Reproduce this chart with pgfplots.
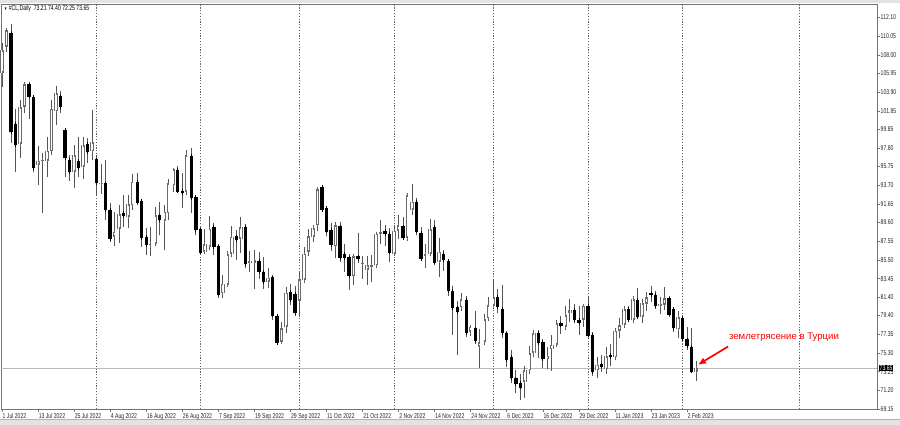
\documentclass[border=0pt]{standalone}
\usepackage{fontspec}
\setmainfont{Liberation Sans}
\newfontfamily\mtfont[FakeStretch=0.73]{Liberation Sans}
\usepackage{pgfplots}
\usepackage{pgfplotstable}
\pgfplotsset{compat=1.18}
\usetikzlibrary{arrows.meta}

\definecolor{wick}{gray}{0.33}
\definecolor{outl}{gray}{0.42}
\definecolor{frame}{gray}{0.45}
\definecolor{sep}{gray}{0.40}

% #CL daily candles, 1 Jul 2022 .. 6 Feb 2023 (bar index, open, high, low, close)
\pgfplotstableread{
i o h l c
0 106.0 109.3 104.5 108.5
1 108.9 111.0 108.3 110.7
2 110.4 111.4 98.3 99.5
3 100.4 102.1 95.2 98.1
4 98.2 103.05 96.7 102.25
5 102.3 105.05 101.6 104.77
6 104.77 105.0 101.0 103.4
7 103.4 103.6 95.1 95.6
8 95.9 98.0 93.7 96.4
9 96.4 97.2 90.6 96.5
10 96.4 99.0 94.6 97.5
11 97.4 103.1 97.0 102.1
12 101.8 104.6 100.3 103.8
13 103.5 104.0 101.6 102.3
14 99.8 100.0 94.6 96.65
15 96.45 97.0 94.2 95.1
16 95.2 98.1 93.4 97.0
17 96.4 99.0 94.6 95.55
18 95.7 99.0 94.4 98.1
19 98.2 98.9 96.1 97.3
20 97.4 101.9 96.5 98.4
21 96.55 97.0 92.5 93.9
22 93.8 96.0 92.7 93.9
23 93.9 96.5 89.9 91.0
24 91.0 91.8 87.5 87.8
25 88.05 90.8 87.0 88.6
26 88.9 91.5 87.4 90.5
27 90.7 92.6 89.1 90.3
28 90.2 92.6 89.0 91.6
29 91.5 94.9 91.0 94.1
30 94.1 95.0 91.5 91.8
31 92.0 92.2 86.9 87.9
32 88.0 89.0 86.0 87.15
33 87.15 89.1 85.9 87.3
34 87.3 91.3 87.0 90.4
35 90.4 91.9 88.2 89.9
36 89.8 91.5 86.6 90.8
37 90.6 94.4 89.9 93.9
38 93.7 95.6 93.0 95.45
39 95.4 95.8 92.8 93.0
40 93.1 95.0 91.2 92.8
41 93.0 97.6 92.6 97.0
42 96.9 97.75 90.6 92.3
43 92.4 92.6 88.2 88.8
44 88.85 89.1 86.1 86.3
45 86.4 88.9 86.1 87.25
46 86.95 90.3 86.6 88.95
47 89.1 89.5 86.0 86.9
48 87.0 87.3 81.3 81.7
49 81.85 83.9 81.3 82.9
50 82.8 86.5 82.5 86.15
51 86.2 89.2 85.8 88.05
52 88.1 88.8 85.5 87.7
53 87.8 90.2 86.3 89.1
54 89.1 89.4 84.6 85.05
55 85.2 86.5 84.2 85.35
56 85.2 86.6 82.3 85.5
57 85.4 86.4 83.4 84.2
58 84.2 85.8 82.3 83.1
59 83.1 84.6 82.4 83.55
60 83.6 83.9 78.9 79.4
61 79.35 79.6 76.2 76.4
62 76.5 78.7 76.3 78.0
63 78.2 82.5 77.5 81.9
64 82.0 82.9 80.6 81.1
65 81.8 82.6 79.3 79.7
66 81.0 84.2 79.4 83.4
67 83.3 86.9 83.0 86.2
68 86.4 88.9 85.9 88.1
69 88.05 89.3 87.5 89.0
70 89.3 93.4 88.7 93.3
71 93.5 93.7 90.8 91.0
72 91.2 91.4 88.1 88.6
73 88.8 89.6 86.5 87.15
74 87.0 89.7 85.7 89.3
75 89.2 89.7 85.3 85.7
76 86.15 87.2 84.2 85.7
77 85.8 86.2 82.2 83.7
78 83.7 86.2 82.7 85.9
79 85.9 88.5 85.2 85.6
80 85.1 85.9 83.4 85.2
81 84.4 85.9 82.8 84.9
82 84.7 86.0 83.1 85.0
83 84.9 88.6 84.6 88.4
84 88.35 89.9 87.3 88.6
85 88.7 89.3 87.0 88.35
86 88.4 89.0 85.3 86.3
87 86.2 89.3 85.9 88.7
88 88.7 90.4 87.8 89.3
89 89.2 90.2 87.7 87.9
90 87.9 92.8 87.6 92.6
91 91.0 93.8 90.4 91.9
92 91.9 92.3 88.2 88.6
93 88.5 89.1 85.4 85.6
94 85.9 87.3 84.6 86.2
95 86.2 90.0 85.9 88.85
96 89.1 89.9 84.9 85.2
97 85.3 87.9 83.6 86.4
98 86.2 86.6 84.3 85.5
99 85.4 85.6 81.5 82.1
100 82.1 82.6 77.3 80.2
101 80.3 81.0 75.1 79.8
102 80.3 81.9 79.9 81.2
103 81.1 81.5 77.1 77.45
104 77.6 78.4 77.2 78.2
105 78.0 79.9 76.3 76.6
106 76.0 77.9 73.6 76.5
107 76.5 79.6 76.2 79.0
108 79.1 81.4 78.8 80.55
109 80.45 83.3 80.1 81.45
110 81.45 82.3 79.7 80.3
111 80.1 82.7 76.9 77.45
112 77.45 77.7 73.8 74.5
113 74.9 75.6 72.0 72.5
114 72.5 73.4 70.9 71.9
115 72.0 73.0 70.1 71.5
116 72.1 73.9 70.4 73.4
117 73.4 76.1 73.0 75.3
118 75.3 77.8 74.8 77.45
119 77.5 77.8 74.7 76.35
120 76.5 76.8 73.6 74.6
121 74.6 75.9 73.5 75.0
122 75.7 77.3 73.3 76.2
123 76.2 78.9 75.9 78.55
124 78.55 79.3 77.4 78.3
125 78.2 80.4 77.8 79.45
126 79.7 81.2 78.7 80.0
127 80.0 80.7 78.6 78.9
128 78.9 80.4 77.3 78.6
129 78.9 80.7 78.2 80.5
130 80.5 81.5 76.8 77.2
131 77.3 77.6 72.8 73.2
132 73.4 74.9 72.5 74.0
133 74.05 75.1 73.2 73.8
134 73.5 75.9 73.0 74.95
135 75.1 76.3 73.9 74.8
136 74.8 78.0 74.5 77.75
137 77.7 79.1 76.9 78.35
138 78.35 80.4 78.0 80.1
139 80.1 80.4 78.7 78.9
140 78.9 81.5 78.6 81.2
141 81.1 82.4 79.1 79.25
142 79.25 81.2 78.6 80.75
143 80.7 82.0 79.9 81.45
144 81.85 82.6 80.9 81.65
145 81.65 82.1 80.1 80.4
146 80.4 81.4 79.6 80.7
147 80.6 82.5 80.0 81.3
148 81.3 81.6 79.2 79.5
149 80.1 80.2 77.6 78.0
150 77.9 79.9 76.9 79.25
151 79.15 79.4 76.6 76.8
152 76.8 78.1 75.6 76.05
153 76.0 78.0 73.1 73.25
154 73.21 74.40 72.25 73.65
}\cl

\begin{document}
\begin{tikzpicture}[x=1pt,y=1pt]
\useasboundingbox (0,0) rectangle (900,425);
\fill[white] (0,0) rectangle (900,425);
\fill[gray!22] (0,0) rectangle (900,5);
\draw[gray!60] (0,5.5) -- (900,5.5);
\fill[gray!22] (0,422) rectangle (900,425);
\begin{axis}[
    at={(1pt,16pt)}, anchor=south west,
    scale only axis, width=876pt, height=405pt,
    xmin=-0.222, xmax=194.14,
    ymin=69.15, ymax=113.58,
    clip=false,
    axis line style={draw=frame, line width=0.8pt},
    tick style={draw=frame, line width=0.6pt},
    major tick length=3pt,
    tick align=outside,
    xtick pos=bottom, ytick pos=right,
    yticklabel pos=right,
    /pgf/number format/assume math mode=true,
    tick label style={font=\mtfont\fontsize{7}{8}\selectfont, text=black!85},
    xtick={0,8,...,152},
    xticklabels={1 Jul 2022,13 Jul 2022,25 Jul 2022,4 Aug 2022,16 Aug 2022,
        26 Aug 2022,7 Sep 2022,19 Sep 2022,29 Sep 2022,11 Oct 2022,21 Oct 2022,
        2 Nov 2022,14 Nov 2022,24 Nov 2022,6 Dec 2022,16 Dec 2022,29 Dec 2022,
        11 Jan 2023,23 Jan 2023,2 Feb 2023},
    xticklabel style={anchor=north west, inner sep=0.5pt, xshift=0pt, yshift=-0.5pt},
    ytick={112.10,110.05,108.00,105.95,103.90,101.85,99.85,97.80,95.75,93.70,
        91.65,89.60,87.55,85.50,83.45,81.40,79.40,77.35,75.30,73.25,71.20,69.15},
    yticklabels={112.10,110.05,108.00,105.95,103.90,101.85,99.85,97.80,95.75,93.70,
        91.65,89.60,87.55,85.50,83.45,81.40,79.40,77.35,75.30,73.25,71.20,69.15},
    yticklabel style={anchor=west, inner sep=0.5pt},
    extra x ticks={21,44,66,87,109,130,151,177},
    extra x tick labels={},
    extra x tick style={grid=major, major tick length=0pt,
        major grid style={draw=sep, line width=0.6pt, dash pattern=on 1.2pt off 1.6pt}},
]
% current price line
\addplot[gray!55, line width=0.6pt, mark=none] coordinates {(-0.222,73.65)(194.14,73.65)};

% wicks
\addplot[draw=none, mark=none,
    error bars/.cd, y dir=plus, y explicit, error mark=none,
    error bar style={draw=wick, line width=0.8pt}]
    table[x=i, y=l, y error plus expr=\thisrow{h}-\thisrow{l}] {\cl};

% bullish bodies: grey outline, white inside
\addplot[draw=none, mark=none,
    restrict expr to domain={\thisrow{c}-\thisrow{o}}{0:100},
    error bars/.cd, y dir=plus, y explicit, error mark=none,
    error bar style={draw=outl, line width=3.4pt}]
    table[x=i, y=o, y error plus expr=\thisrow{c}-\thisrow{o}] {\cl};
\addplot[draw=none, mark=none,
    restrict expr to domain={\thisrow{c}-\thisrow{o}}{0:100},
    error bars/.cd, y dir=both, y explicit, error mark=-,
    error mark options={draw=outl, line width=0.8pt, mark size=1.7pt},
    error bar style={draw=white, line width=1.8pt}]
    table[x=i, y=o, y error plus expr=\thisrow{c}-\thisrow{o}, y error minus expr=0] {\cl};

% bearish bodies: black
\addplot[draw=none, mark=none,
    restrict expr to domain={\thisrow{c}-\thisrow{o}}{-100:-0.0001},
    error bars/.cd, y dir=both, y explicit, error mark=-,
    error mark options={draw=black, line width=0.8pt, mark size=1.7pt},
    error bar style={draw=black, line width=3.4pt}]
    table[x=i, y=c, y error plus expr=\thisrow{o}-\thisrow{c}, y error minus expr=0] {\cl};

% annotation
\node[text=red, font=\fontsize{9.6}{11}\selectfont, anchor=center] at (axis cs:173.5,77.05) {землетрясение в Турции};
\draw[red, line width=1.7pt, -{Latex[length=8pt,width=7pt]}] (axis cs:161.1,76.0) -- (axis cs:154.4,74.0);

% price label (covers the 73.25 tick label, as in the terminal)
\node[fill=black, text=white, anchor=west, inner sep=0.9pt, font=\mtfont\fontsize{7}{8}\selectfont] at (axis cs:194.5,73.65) {73.65};

% header
\node[anchor=west, inner sep=0pt, font=\mtfont\fontsize{7}{8}\selectfont] at ([xshift=3pt,yshift=-5pt]rel axis cs:0,1) {{\fontsize{4.5}{5}\selectfont▼}\ \#CL,Daily\ \ 73.21 74.40 72.25 73.65};
\end{axis}
\end{tikzpicture}
\end{document}
